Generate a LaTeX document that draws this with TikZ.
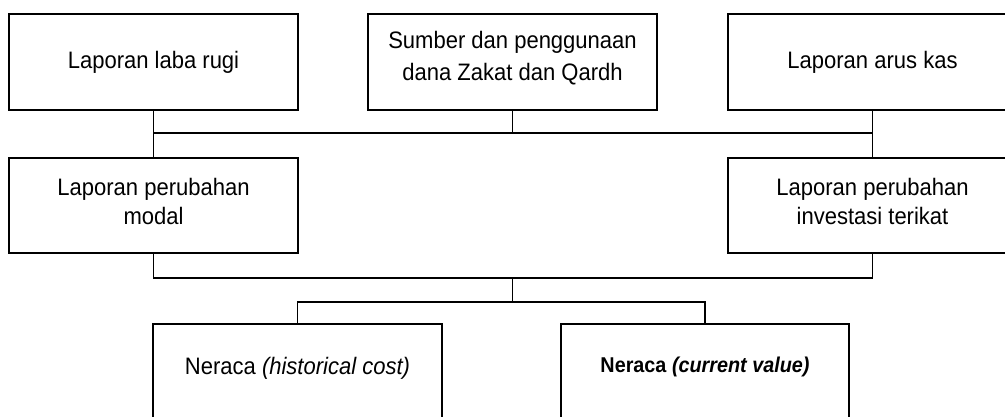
\documentclass[tikz,border=0pt]{standalone}
\usepackage{fontspec}
\setmainfont[FakeStretch=0.925]{Liberation Sans}
\begin{document}
\begin{tikzpicture}[x=1pt,y=-1pt,
  box/.style={draw=black, line width=1.6pt, outer sep=0pt, inner sep=0pt,
    minimum width=289pt, minimum height=96pt},
  txt/.style={align=center, font=\fontsize{23.8}{32}\selectfont},
  txtb/.style={align=center, font=\fontsize{23.8}{29}\selectfont},
  conn/.style={draw=black, line width=1.6pt}]
\useasboundingbox (0,0) rectangle (1005,417);
\clip (0,0) rectangle (1005,417);
% top row
\node[box, label={[name=t1, txt]center:Laporan laba rugi}] (b1) at (153.5,62) {};
\node[box, label={[name=t2, txt, yshift=4pt]center:Sumber dan penggunaan\\dana Zakat dan Qardh}] (b2) at (512.5,62) {};
\node[box, label={[name=t3, txt]center:Laporan arus kas}] (b3) at (872.5,62) {};
% middle row
\node[box, minimum height=95pt, label={[name=t4, txtb, yshift=4pt]center:Laporan perubahan\\modal}] (b4) at (153.5,205.5) {};
\node[box, minimum height=95pt, label={[name=t5, txtb, yshift=4pt]center:Laporan perubahan\\investasi terikat}] (b5) at (872.5,205.5) {};
% bottom row
\node[box, minimum height=116pt, label={[name=t6, font=\fontsize{23.8}{26}\selectfont, yshift=14pt]center:Neraca \textit{(historical cost)}}] (b6) at (297.5,382) {};
\node[box, minimum width=288pt, minimum height=116pt, label={[name=t7, font=\fontsize{21.4}{24}\selectfont\bfseries, yshift=15pt]center:Neraca \textit{(current value)}}] (b7) at (705,382) {};
% bus coordinates
\coordinate (bus1) at (0,133);
\coordinate (bus2) at (0,278);
\coordinate (bus3) at (0,302);
% connectors
\draw[conn] (b1.south) -- (b4.north);
\draw[conn] (b3.south) -- (b5.north);
\draw[conn] (b2.south) -- (b2.south |- bus1);
\draw[conn] (b1.south |- bus1) -- (b3.south |- bus1);
\draw[conn] (b4.south) -- (b4.south |- bus2) -- (b5.south |- bus2) -- (b5.south);
\draw[conn] (b2.south |- bus2) -- (b2.south |- bus3);
\draw[conn] (b6.north) -- (b6.north |- bus3) -- (b7.north |- bus3) -- (b7.north);
\end{tikzpicture}
\end{document}
